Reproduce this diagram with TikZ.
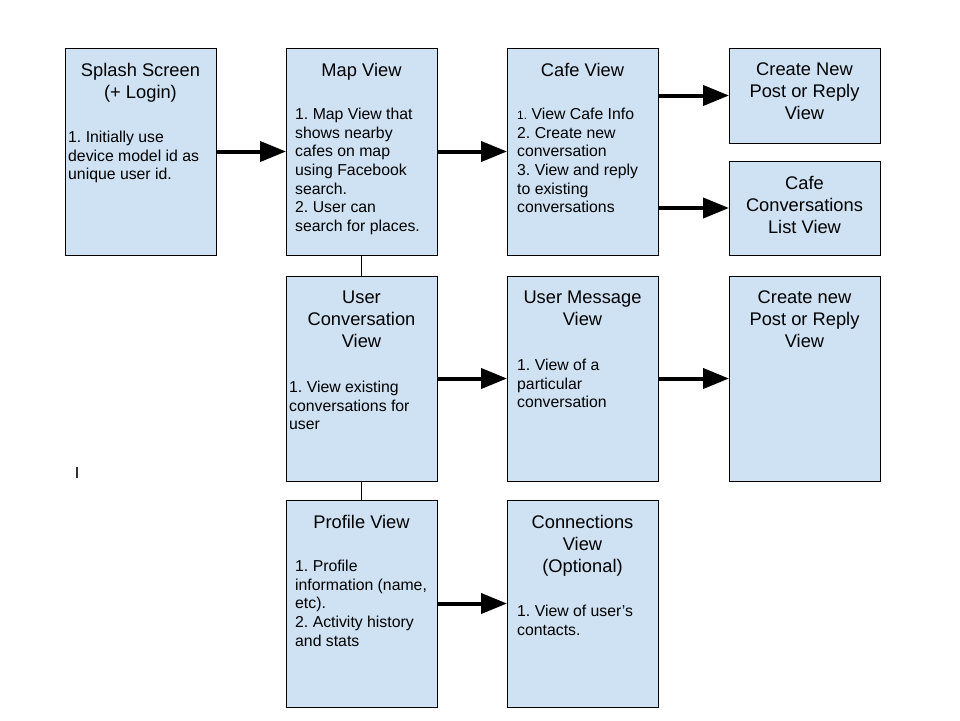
\documentclass[tikz,border=0pt]{standalone}
\usepackage{fontspec}
\setmainfont{Liberation Sans}
\usepackage{xcolor}
\usetikzlibrary{arrows.meta}
\definecolor{paleblue}{HTML}{CFE2F3}
\frenchspacing

\begin{document}
\begin{tikzpicture}[x=1pt,y=-1pt,
	screen/.style={draw,line width=0.8,fill=paleblue,anchor=north west,
		minimum width=151,minimum height=#1,inner sep=0,outer sep=0},
	screen/.default=207,
	head/.style={anchor=north,align=center,inner sep=0,
		font=\fontsize{18.3}{22}\selectfont},
	note/.style={anchor=north west,align=left,inner sep=0,
		font=\fontsize{15.8}{18.6}\selectfont},
	link/.style={line width=4,-{Triangle[length=26,width=20]}},
	]
	\useasboundingbox (0,0) rectangle (960,720);
	
	% first row
	\node[screen] (splash) at (65,48) {};
	\node[head] (splash-t) at ([yshift=-15]splash.north) {Splash Screen\\(+ Login)};
	\node[note] (splash-b) at ([xshift=3,yshift=-83]splash.north west) {1. Initially use\\device model id as\\unique user id.};
	
	\node[screen] (map) at (286,48) {};
	\node[head] (map-t) at ([yshift=-15]map.north) {Map View};
	\node[note] (map-b) at ([xshift=9,yshift=-60]map.north west) {1. Map View that\\shows nearby\\cafes on map\\using Facebook\\search.\\2. User can\\search for places.};
	
	\node[screen] (cafe) at (507,48) {};
	\node[head] (cafe-t) at ([yshift=-15]cafe.north) {Cafe View};
	\node[note] (cafe-b) at ([xshift=10,yshift=-60]cafe.north west) {{\fontsize{12}{18.6}\selectfont 1.} View Cafe Info\\2. Create new\\conversation\\3. View and reply\\to existing\\conversations};
	
	\node[screen=95] (newpost) at (729,48) {};
	\node[head] (newpost-t) at ([yshift=-15]newpost.north) {Create New\\Post or Reply\\View};
	
	\node[screen=94] (cafelist) at (729,161) {};
	\node[head] (cafelist-t) at ([yshift=-15]cafelist.north) {Cafe\\Conversations\\List View};
	
	% second row
	\node[screen=205] (userconv) at (286,276) {};
	\node[head] (userconv-t) at ([yshift=-15]userconv.north) {User\\Conversation\\View};
	\node[note] (userconv-b) at ([xshift=3,yshift=-105]userconv.north west) {1. View existing\\conversations for\\user};
	
	\node[screen=205] (usermsg) at (507,276) {};
	\node[head] (usermsg-t) at ([yshift=-15]usermsg.north) {User Message\\View};
	\node[note] (usermsg-b) at ([xshift=10,yshift=-83]usermsg.north west) {1. View of a\\particular\\conversation};
	
	\node[screen=205] (newreply) at (729,276) {};
	\node[head] (newreply-t) at ([yshift=-15]newreply.north) {Create new\\Post or Reply\\View};
	
	% third row
	\node[screen] (profile) at (286,500) {};
	\node[head] (profile-t) at ([yshift=-15]profile.north) {Profile View};
	\node[note] (profile-b) at ([xshift=9,yshift=-60]profile.north west) {1. Profile\\information (name,\\etc).\\2. Activity history\\and stats};
	
	\node[screen] (contacts) at (507,500) {};
	\node[head] (contacts-t) at ([yshift=-15]contacts.north) {Connections\\View\\(Optional)};
	\node[note] (contacts-b) at ([xshift=10,yshift=-105]contacts.north west) {1. View of user’s\\contacts.};
	
	% arrows
	\draw[link] (splash) -- (map);
	\draw[link] (map) -- (cafe);
	\draw[link] (cafe.east |- newpost) -- (newpost.west);
	\draw[link] (cafe.east |- cafelist) -- (cafelist.west);
	\draw[link] (userconv) -- (usermsg);
	\draw[link] (usermsg) -- (newreply);
	\draw[link] (profile) -- (contacts);
	
	% plain links down the middle column
	\draw[line width=0.8] (map) -- (userconv);
	\draw[line width=0.8] (userconv) -- (profile);
	
	% stray tick
	\draw[line width=1.5,black!80] (77,467) -- (77,478);
\end{tikzpicture}
\end{document}
